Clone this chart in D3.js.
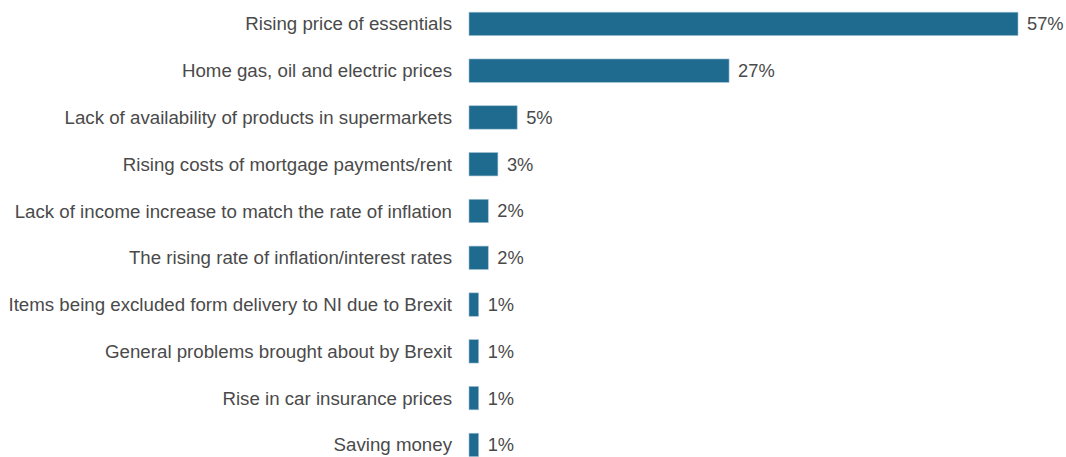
<!DOCTYPE html>
<html>
<head>
<meta charset="utf-8">
<script src="https://cdn.jsdelivr.net/npm/d3@7"></script>
<style>
  body { margin: 0; background: #fff; }
  text { font-family: "Liberation Sans", Arial, sans-serif; font-size: 18.7px; fill: #4a4a4a; }
  .val { font-size: 18.3px; }
</style>
</head>
<body>
<svg id="chart"></svg>
<script>
var categories = [
  "Rising price of essentials",
  "Home gas, oil and electric prices",
  "Lack of availability of products in supermarkets",
  "Rising costs of mortgage payments/rent",
  "Lack of income increase to match the rate of inflation",
  "The rising rate of inflation/interest rates",
  "Items being excluded form delivery to NI due to Brexit",
  "General problems brought about by Brexit",
  "Rise in car insurance prices",
  "Saving money"
];
var values = [57, 27, 5, 3, 2, 2, 1, 1, 1, 1];

var width = 1066, height = 457;
var barColor = "#1f6a8f";

var svg = d3.select("#chart")
  .attr("width", width)
  .attr("height", height);

//Scales
var x = d3.scaleLinear().domain([0, 57]).range([469, 1018]);
var y = d3.scaleBand().domain(categories)
  .range([0.5, 468.3])
  .paddingInner(0.5)
  .paddingOuter(0.25);

var data = categories.map(function(c, i){ return {label: c, value: values[i]}; });

//Category labels
svg.selectAll(".cat")
  .data(data)
  .enter().append("text")
  .attr("class", "cat")
  .attr("x", 452)
  .attr("y", function(d){ return y(d.label) + y.bandwidth() / 2; })
  .attr("dy", "0.35em")
  .attr("text-anchor", "end")
  .text(function(d){ return d.label; });

//Bars
svg.selectAll(".bar")
  .data(data)
  .enter().append("rect")
  .attr("class", "bar")
  .attr("x", x(0))
  .attr("y", function(d){ return y(d.label); })
  .attr("width", function(d){ return x(d.value) - x(0); })
  .attr("height", y.bandwidth())
  .style("fill", barColor)
  .style("stroke", "#9fc0d3")
  .style("stroke-width", 0.6);

//Value labels
svg.selectAll(".val")
  .data(data)
  .enter().append("text")
  .attr("class", "val")
  .attr("x", function(d){ return x(d.value) + 9; })
  .attr("y", function(d){ return y(d.label) + y.bandwidth() / 2; })
  .attr("dy", "0.35em")
  .text(function(d){ return d.value + "%"; });
</script>
</body>
</html>
